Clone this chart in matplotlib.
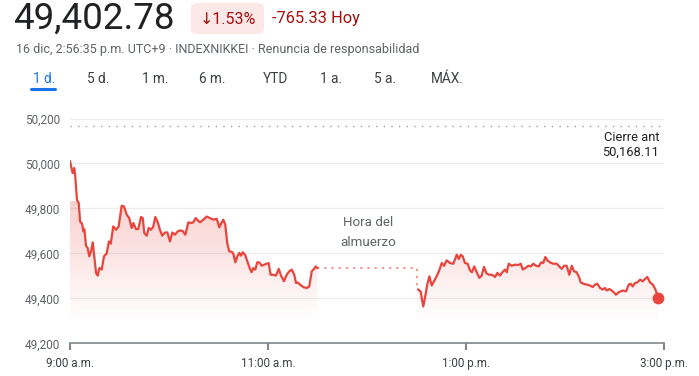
import matplotlib
matplotlib.use("Agg")
import matplotlib.pyplot as plt
import numpy as np
from matplotlib.patches import FancyBboxPatch, Polygon
from matplotlib.colors import LinearSegmentedColormap

# ---------------- data ----------------
# minutes after 9:00 a.m. (morning session 9:00-11:30)
am_minutes = [0, 1.6, 2.6, 3.2, 4.2, 5.3, 6.1, 7.3, 8.1, 8.7, 9.7, 10.7, 11.7, 12.7, 13.8, 14.7,
              15.8, 16.8, 17.8, 19.2, 20.6, 22.2, 23.6, 24.7, 26.2, 27.9, 29.5, 31.3, 32.7, 34.4,
              35.9, 37.4, 38.4, 40, 41.4, 43, 44.1, 45, 46.5, 47.7, 49.1, 50.5, 51.7, 53.2, 54.5,
              55.9, 57.6, 59, 60.6, 62, 63.6, 65.3, 66.7, 68.3, 69.9, 71.7, 73.2, 74.7, 76.2, 77.4,
              78.8, 80.8, 82.8, 84.8, 86.8, 88.9, 90.5, 91.5, 92.9, 94.1, 95.3, 96.5, 98, 99, 100.2,
              101.4, 102.6, 103.6, 104.7, 106.1, 107.5, 109.1, 110.1, 111.1, 112.3, 113.5, 114.7,
              116.2, 117.8, 119.2, 120.4, 121.6, 123.2, 124.8, 126.5, 127.9, 129.7, 131.3, 132.9,
              134.4, 135.9, 137, 138, 139.4, 141.4, 143.5, 145, 146.5, 147.9, 148.9, 149.9]
am_values = [50009, 49957, 49980, 49942, 49839, 49824, 49742, 49732, 49698, 49708, 49634, 49624,
             49587, 49609, 49649, 49587, 49513, 49501, 49535, 49528, 49587, 49599, 49653, 49643,
             49720, 49705, 49720, 49812, 49809, 49772, 49757, 49713, 49735, 49708, 49708, 49762,
             49757, 49691, 49679, 49713, 49705, 49720, 49762, 49738, 49705, 49679, 49693, 49693,
             49653, 49693, 49683, 49698, 49702, 49700, 49683, 49738, 49735, 49738, 49757, 49747,
             49738, 49750, 49764, 49757, 49750, 49754, 49716, 49732, 49750, 49728, 49646, 49609,
             49607, 49599, 49560, 49587, 49602, 49590, 49605, 49594, 49564, 49531, 49516, 49535,
             49528, 49560, 49560, 49545, 49550, 49554, 49557, 49505, 49505, 49501, 49531, 49501,
             49476, 49505, 49520, 49528, 49505, 49468, 49471, 49461, 49450, 49446, 49453, 49520,
             49531, 49542, 49535]
# afternoon session 12:30-3:00 p.m.
pm_minutes = [211, 212.5, 214.1, 215.3, 216.5, 217.8, 219.2, 220.6, 222.2, 223.8, 225.3, 226.7,
              228.3, 230.3, 232.3, 234.4, 235.6, 236.8, 238, 239.4, 241, 242.4, 243.6, 245, 246.5,
              248.1, 249.5, 250.9, 252.5, 254.1, 255.8, 257.6, 259, 260.6, 262, 263.6, 264.7,
              265.9, 267.7, 269.7, 271.7, 273.2, 274.4, 276, 277.8, 279.2, 280.8, 282.4, 284.1,
              285.5, 286.8, 288.1, 289.3, 290.9, 292.9, 295, 296.5, 298, 299.4, 301, 302.6, 304.1,
              305.5, 307.1, 308.7, 309.5, 311.1, 313.2, 315.2, 316.8, 318.2, 319.6, 321.2, 322.8,
              324.2, 325.3, 326.8, 328.3, 329.7, 330.9, 332.3, 333.8, 335.3, 337, 338.6, 339.8,
              341, 342.4, 343.8, 345.5, 347.1, 348.5, 349.9, 351.5, 353.2, 354.7, 356.6]
pm_values = [49439, 49431, 49364, 49409, 49461, 49498, 49457, 49476, 49498, 49525, 49557, 49545,
             49569, 49557, 49554, 49594, 49575, 49594, 49587, 49557, 49554, 49525, 49516, 49542,
             49516, 49491, 49501, 49540, 49510, 49505, 49505, 49495, 49513, 49501, 49516, 49528,
             49516, 49554, 49545, 49550, 49548, 49554, 49528, 49535, 49545, 49542, 49554, 49545,
             49542, 49560, 49557, 49584, 49569, 49560, 49554, 49554, 49542, 49531, 49545, 49545,
             49505, 49545, 49520, 49516, 49491, 49471, 49465, 49461, 49457, 49450, 49461, 49465,
             49446, 49439, 49446, 49435, 49441, 49435, 49426, 49416, 49426, 49431, 49435, 49431,
             49461, 49465, 49453, 49468, 49471, 49483, 49476, 49486, 49495, 49471, 49461, 49441,
             49402.78]
prev_close = 50168.11
y_ticks = [49200, 49400, 49600, 49800, 50000, 50200]
x_ticks = [0, 120, 240, 360]
x_tick_labels = ["9:00 a.m.", "11:00 a.m.", "1:00 p.m.", "3:00 p.m."]
tabs = ["1 d.", "5 d.", "1 m.", "6 m.", "YTD", "1 a.", "5 a.", "MÁX."]
lunch_start, lunch_end = 150, 210.5

# ---------------- style ----------------
RED = "#e8453c"
FONT = ["Roboto", "DejaVu Sans"]
plt.rcParams["font.family"] = FONT
W, H = 699, 376
fig = plt.figure(figsize=(W / 100, H / 100), dpi=100)

def fx(px):
    return px / W

def fy(py):
    return 1 - py / H

ax = fig.add_axes([fx(70), fy(343.3), fx(664) - fx(70), fy(118.5) - fy(343.3)])
ax.set_xlim(0, 360)
ax.set_ylim(49200, 50200)
for s in ["top", "right", "left"]:
    ax.spines[s].set_visible(False)
ax.spines["bottom"].set_color("#80868b")
ax.spines["bottom"].set_linewidth(1.2)
ax.set_yticks(y_ticks)
ax.set_yticklabels([f"{v:,}" for v in y_ticks], fontsize=8.5, color="#5f6368")
ax.tick_params(axis="y", length=0, pad=7)
ax.set_xticks(x_ticks)
ax.set_xticklabels(x_tick_labels, fontsize=8.4, color="#3c4043")
ax.tick_params(axis="x", length=5, width=1.5, color="#80868b", pad=5)
for v in y_ticks[1:]:
    ax.axhline(v, color="#ececec", lw=0.9, zorder=0)

# previous close dotted line
ax.axhline(prev_close, color="#9aa0a6", lw=1.0, ls=(0, (1, 4.5)), zorder=1)

# gradient fill
fill_bottom = 49295
grad = np.linspace(0, 1, 256).reshape(-1, 1)
cmap = LinearSegmentedColormap.from_list(
    "g", [(0.91, 0.27, 0.24, 0.0), (0.91, 0.27, 0.24, 0.25)])
for tt, vv in [(am_minutes, am_values), (pm_minutes, pm_values)]:
    verts = [(tt[0], fill_bottom)] + list(zip(tt, vv)) + [(tt[-1], fill_bottom)]
    poly = Polygon(verts, closed=True, facecolor="none", edgecolor="none")
    ax.add_patch(poly)
    im = ax.imshow(grad, extent=[tt[0], tt[-1], fill_bottom, 49830], origin="lower",
                   cmap=cmap, aspect="auto", zorder=1, interpolation="bilinear")
    im.set_clip_path(poly)
ax.set_xlim(0, 360)
ax.set_ylim(49200, 50200)

# lines
ax.plot(am_minutes, am_values, color=RED, lw=1.6, zorder=3, solid_joinstyle="round")
ax.plot(pm_minutes, pm_values, color=RED, lw=1.6, zorder=3, solid_joinstyle="round")
ax.plot([am_minutes[-1], lunch_end, lunch_end],
        [am_values[-1], am_values[-1], pm_values[0]],
        color="#f19a93", lw=1.4, ls=(0, (1.2, 2.5)), zorder=2)
ax.plot([pm_minutes[-1]], [pm_values[-1]], "o", color=RED, ms=7.5, zorder=4, clip_on=False)

# in-chart labels
mid = (lunch_start + lunch_end) / 2 + 0.5
ax.text(mid, 49736, "Hora del", ha="center", va="center", fontsize=9.6, color="#5f6368")
ax.text(mid, 49648, "almuerzo", ha="center", va="center", fontsize=9.6, color="#5f6368")
ax.text(357, 50117, "Cierre ant", ha="right", va="center", fontsize=9.3, color="#202124")
ax.text(357, 50051, f"{prev_close:,.2f}", ha="right", va="center", fontsize=9.3, color="#202124")

# ---------------- header ----------------
fig.text(fx(13), fy(19), "49,402.78", fontsize=26.5, color="#202124", va="center", ha="left")
badge = FancyBboxPatch((fx(191), fy(34)), fx(264) - fx(191), fy(3) - fy(34),
                       boxstyle="round,pad=0,rounding_size=0.012",
                       transform=fig.transFigure, facecolor="#fce8e6", edgecolor="none")
fig.patches.append(badge)
fig.text(fx(228), fy(19), "↓1.53%", fontsize=11.5, color="#a50e0e", ha="center", va="center",
         family=["Roboto", "DejaVu Sans"])
fig.text(fx(272), fy(19), "-765.33 Hoy", fontsize=11.8, color="#a50e0e", ha="left", va="center")
fig.text(fx(16), fy(50), "16 dic, 2:56:35 p.m. UTC+9 · INDEXNIKKEI · Renuncia de responsabilidad",
         fontsize=9.0, color="#5f6368", ha="left", va="center")
tab_x = [44, 98, 155, 212, 275, 331, 385, 447]
for i, (lab, x) in enumerate(zip(tabs, tab_x)):
    fig.text(fx(x), fy(79), lab, fontsize=9.8, ha="center", va="center",
             color="#1a73e8" if i == 0 else "#3c4043")
fig.add_artist(plt.Line2D([fx(31), fx(55)], [fy(89), fy(89)], color="#1a73e8", lw=2.2,
                          transform=fig.transFigure, solid_capstyle="round"))

fig.savefig("out.png", dpi=100)
